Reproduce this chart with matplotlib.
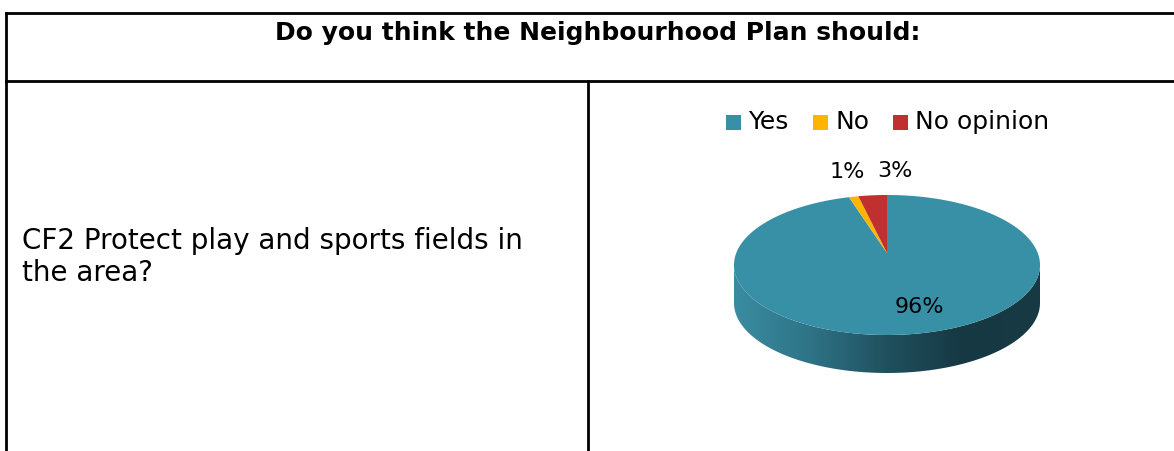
import numpy as np
import matplotlib
matplotlib.use("Agg")
import matplotlib.pyplot as plt
from matplotlib.patches import Polygon, Rectangle
from matplotlib.colors import LinearSegmentedColormap

# --- data ---
header = "Do you think the Neighbourhood Plan should:"
question = "CF2 Protect play and sports fields in\nthe area?"
categories = ["Yes", "No", "No opinion"]
values = [96, 1, 3]
colors = ["#3890A6", "#FFB400", "#C0302F"]

plt.rcParams["font.family"] = ["DejaVu Sans"]

W, H = 1174, 451
fig = plt.figure(figsize=(W / 100, H / 100), dpi=100)
ax = fig.add_axes([0, 0, 1, 1])
ax.set_xlim(0, W)
ax.set_ylim(H, 0)
ax.axis("off")

# ── table grid ───────────────────────────────────────────────────────────────
lw = 2.0
ax.plot([6, W + 20], [13, 13], color="black", lw=lw)
ax.plot([6, W + 20], [81, 81], color="black", lw=lw)
ax.plot([6, 6], [13, H + 5], color="black", lw=lw)
ax.plot([588, 588], [81, H + 5], color="black", lw=lw)

ax.text(598, 33, header, ha="center", va="center", fontsize=18,
        fontweight="bold")
ax.text(22, 257, question, ha="left", va="center", fontsize=20,
        linespacing=1.15)

# ── 3D pie (ellipse top + gradient side) ─────────────────────────────────────
cx, cy, a, b, depth = 887, 265, 153, 70, 38
apex = (887, 253)  # perspective: apex sits a little above the ellipse centre

# side: front half of the rim, clipped gradient
t = np.linspace(np.pi, 2 * np.pi, 200)
top_x = cx + a * np.cos(t)
top_y = cy - b * np.sin(t)
side_pts = np.vstack([np.column_stack([top_x, top_y]),
                      np.column_stack([top_x[::-1], top_y[::-1] + depth])])
side = Polygon(side_pts, closed=True, facecolor="none", edgecolor="none")
ax.add_patch(side)
side_cmap = LinearSegmentedColormap.from_list(
    "side", ["#3A8CA0", "#2E7386", "#20505D", "#163842", "#173A44"])
grad = np.linspace(0, 1, 256).reshape(1, -1)
im = ax.imshow(grad, cmap=side_cmap, aspect="auto",
               extent=[cx - a, cx + a, cy + b + depth, cy - 5], zorder=1)
im.set_clip_path(side)

# top face wedges: start at 12 o'clock, clockwise
start = 90.0
fracs = np.array(values, dtype=float) / sum(values)
for frac, col in zip(fracs, colors):
    end = start - frac * 360
    th = np.radians(np.linspace(start, end, max(int(abs(end - start)) * 2, 4)))
    pts = np.column_stack([cx + a * np.cos(th), cy - b * np.sin(th)])
    pts = np.vstack([apex, pts])
    ax.add_patch(Polygon(pts, closed=True, facecolor=col, edgecolor="none",
                         zorder=2))
    start = end

# data labels
label_pos = [(919, 307), (847, 172), (895, 171)]
for v, (lx, ly) in zip(values, label_pos):
    ax.text(lx, ly, f"{v}%", ha="center", va="center", fontsize=16,
            zorder=3)

# legend
leg_x = [[726, 748], [813, 835], [893, 915]]
for cat, col, (sx, tx) in zip(categories, colors, leg_x):
    ax.add_patch(Rectangle((sx, 115), 15, 15, facecolor=col,
                           edgecolor="none"))
    ax.text(tx, 122, cat, ha="left", va="center", fontsize=18)

fig.savefig("out.png", dpi=100)
